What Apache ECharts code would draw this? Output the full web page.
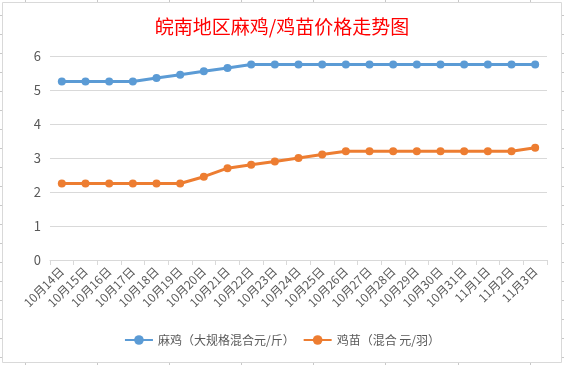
<!DOCTYPE html>
<html><head><meta charset="utf-8">
<script src="https://cdn.jsdelivr.net/npm/echarts@6/dist/echarts.min.js"></script>
<style>html,body{margin:0;padding:0;background:#fff}#c{width:564px;height:365px}</style>
</head><body><div id="c"></div>
<script>
var categories = ['10月14日','10月15日','10月16日','10月17日','10月18日','10月19日','10月20日','10月21日','10月22日','10月23日','10月24日','10月25日','10月26日','10月27日','10月28日','10月29日','10月30日','10月31日','11月1日','11月2日','11月3日'];
var majiValues = [5.25,5.25,5.25,5.25,5.35,5.45,5.55,5.65,5.75,5.75,5.75,5.75,5.75,5.75,5.75,5.75,5.75,5.75,5.75,5.75,5.75];
var jimiaoValues = [2.25,2.25,2.25,2.25,2.25,2.25,2.45,2.7,2.8,2.9,3.0,3.1,3.2,3.2,3.2,3.2,3.2,3.2,3.2,3.2,3.3];
var seriesNames = ['麻鸡（大规格混合元/斤）','鸡苗（混合 元/羽）'];
var titleText = '皖南地区麻鸡/鸡苗价格走势图';

var chart = echarts.init(document.getElementById('c'));
var font = '"Noto Sans CJK SC", "Noto Sans", sans-serif';
var g = [];
g.push({type:'rect', shape:{x:2.5,y:2.5,width:559,height:360}, style:{fill:'none',stroke:'#d9d9d9',lineWidth:1}, silent:true, z:-1});
var cols = [25,97,169,241,313,385,458,530];
cols.forEach(function(x){
  g.push({type:'line', shape:{x1:x+0.5,y1:0,x2:x+0.5,y2:2}, style:{stroke:'#c8c8c8',lineWidth:1}, silent:true});
  g.push({type:'line', shape:{x1:x+0.5,y1:363,x2:x+0.5,y2:365}, style:{stroke:'#c8c8c8',lineWidth:1}, silent:true});
});
for (var y=15; y<362; y+=19) {
  g.push({type:'line', shape:{x1:0,y1:y+0.5,x2:2,y2:y+0.5}, style:{stroke:'#c8c8c8',lineWidth:1}, silent:true});
  g.push({type:'line', shape:{x1:562,y1:y+0.5,x2:564,y2:y+0.5}, style:{stroke:'#c8c8c8',lineWidth:1}, silent:true});
}
chart.setOption({
  backgroundColor:'#fff',
  animation:false,
  graphic:g,
  title:{text:titleText,left:'center',top:12,textStyle:{color:'#ff0000',fontSize:19,fontWeight:'normal',fontFamily:font}},
  legend:{bottom:14,left:'center',itemWidth:28,itemHeight:12,itemGap:8,
    textStyle:{color:'#595959',fontSize:12,fontFamily:font},
    data:[seriesNames[0],seriesNames[1]]},
  grid:{left:50,right:17,top:56,bottom:105},
  xAxis:{type:'category',data:categories,boundaryGap:true,
    axisLine:{lineStyle:{color:'#d9d9d9'}},
    axisTick:{show:true,length:5,lineStyle:{color:'#d9d9d9'}},
    axisLabel:{rotate:45,interval:0,color:'#595959',fontSize:12,fontFamily:font,margin:9}},
  yAxis:{type:'value',min:0,max:6,interval:1,
    axisLine:{show:false},axisTick:{show:false},
    splitLine:{lineStyle:{color:'#d9d9d9'}},
    axisLabel:{color:'#595959',fontSize:13,fontFamily:font,margin:9}},
  series:[
    {name:seriesNames[0],type:'line',data:majiValues,symbol:'circle',symbolSize:8,
      itemStyle:{color:'#5b9bd5'},lineStyle:{width:3,color:'#5b9bd5'}},
    {name:seriesNames[1],type:'line',data:jimiaoValues,symbol:'circle',symbolSize:8,
      itemStyle:{color:'#ed7d31'},lineStyle:{width:3,color:'#ed7d31'}}
  ]
});
</script></body></html>
